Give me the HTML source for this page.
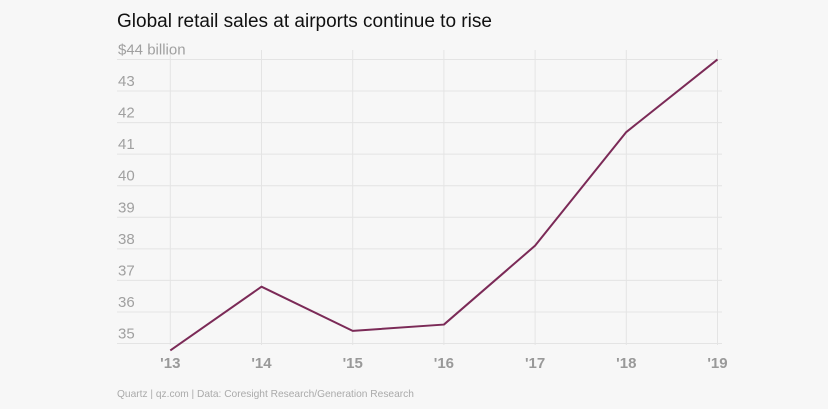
<!DOCTYPE html>
<html><head><meta charset="utf-8"><style>
html,body{margin:0;padding:0;background:#f7f7f7;}
body{width:828px;height:409px;overflow:hidden;font-family:"Liberation Sans",sans-serif;}
</style></head><body>
<svg width="828" height="409" style="position:absolute;left:0;top:0">
<text x="117" y="27" font-size="19" fill="#111">Global retail sales at airports continue to rise</text>
<g id="grid"></g><g id="xt"></g><g id="yt"></g>
<path id="line" fill="none" stroke="#7b2a57" stroke-width="2" stroke-linejoin="round"></path>
<text x="117" y="397" font-size="10.2" fill="#aaa">Quartz | qz.com | Data: Coresight Research/Generation Research</text>
</svg>
<script>
const years=["'13","'14","'15","'16","'17","'18","'19"];
const sales=[34.78,36.8,35.4,35.6,38.1,41.7,44.0];
const yTicks=[35,36,37,38,39,40,41,42,43,44];
const yTickLabels=["35","36","37","38","39","40","41","42","43","$44 billion"];
const ns="http://www.w3.org/2000/svg";
const x=i=>170.3+i*91.2;
const y=v=>343.5-(v-35)*31.56;
const grid=document.getElementById('grid'),xt=document.getElementById('xt'),yt=document.getElementById('yt');
function mk(t,a,p){const e=document.createElementNS(ns,t);for(const k in a)e.setAttribute(k,a[k]);p.appendChild(e);return e;}
years.forEach((lab,i)=>{
 const l=mk('line',{x1:x(i),x2:x(i),y1:50,y2:345,stroke:'#e4e4e4','stroke-width':1},grid);
 
 
 const t=mk('text',{x:x(i),y:368,'font-size':15,fill:'#999','text-anchor':'middle','font-weight':'bold'},xt);
 t.textContent=lab;
 
 
});
yTicks.forEach((v,i)=>{
 const l=mk('line',{x1:117,x2:722,y1:y(v),y2:y(v),stroke:'#e4e4e4','stroke-width':1},grid);
 
 
 const t=mk('text',{x:118,y:y(v)-5,'font-size':15,fill:'#a0a0a0'},yt);
 t.textContent=yTickLabels[i];
 
 
});
document.getElementById('line').setAttribute('d',sales.map((v,i)=>(i?'L':'M')+x(i)+','+y(v)).join(''));
</script>
</body></html>
